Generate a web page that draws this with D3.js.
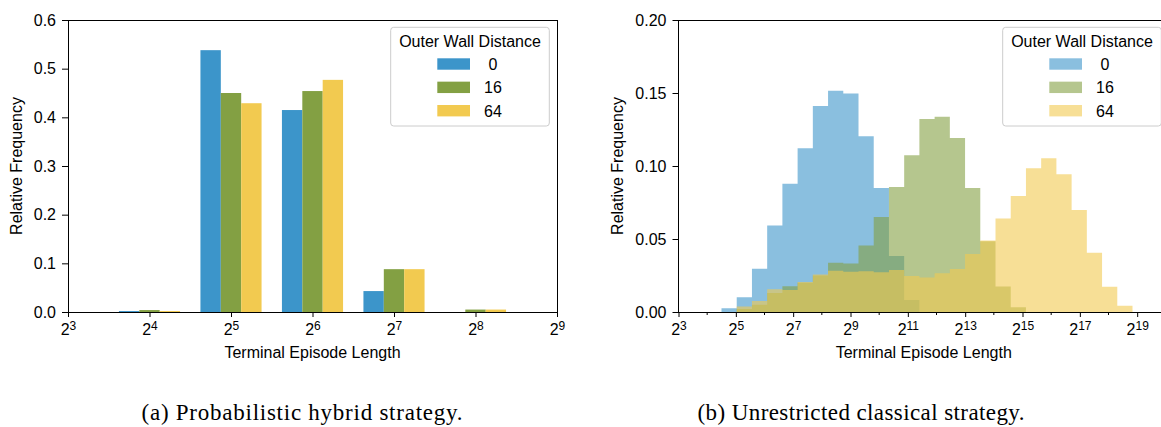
<!DOCTYPE html>
<html>
<head>
<meta charset="utf-8">
<script src="https://cdn.jsdelivr.net/npm/d3@7"></script>
<style>
  body { margin: 0; background: #fff; overflow: hidden; }
  svg { display: block; }
  text { font-family: "Liberation Sans", Arial, sans-serif; }
</style>
</head>
<body>
<svg id="fig" width="1161" height="427"></svg>
<script>
// legend entries
const wallLabels = [" 0", "16", "64"];
const baseColors = ["#3c95ca", "#83a043", "#f2ca50"];

// (a) probabilistic hybrid: bars at powers of two (exponents)
const hybridExp = [4, 5, 6, 7, 8];
const hybrid0  = [0.002, 0.538, 0.415, 0.043, 0.000];
const hybrid16 = [0.004, 0.450, 0.454, 0.088, 0.005];
const hybrid64 = [0.002, 0.429, 0.477, 0.088, 0.005];

// (b) unrestricted classical: shared log2 bin edges + relative frequency per bin
const classicalEdges = [4.500, 5.031, 5.562, 6.093, 6.624, 7.155, 7.686, 8.217, 8.748, 9.279,
  9.810, 10.341, 10.872, 11.403, 11.934, 12.465, 12.996, 13.527, 14.058, 14.589,
  15.120, 15.651, 16.182, 16.713, 17.244, 17.775, 18.306, 18.837];
const classical0 = [0.0025, 0.0101, 0.0297, 0.0592, 0.0878, 0.1122, 0.1411, 0.1515, 0.1497, 0.1204,
  0.0849, 0.0384, 0.0082, 0, 0, 0, 0, 0, 0, 0, 0, 0, 0, 0, 0, 0, 0];
const classical16 = [0, 0.002, 0.005, 0.013, 0.0176, 0.020, 0.025, 0.0338, 0.0333, 0.0456,
  0.0650, 0.0856, 0.1074, 0.1322, 0.1338, 0.1192, 0.0849, 0.0485, 0.0174, 0.0032,
  0, 0, 0, 0, 0, 0, 0];
const classical64 = [0, 0.0037, 0.0075, 0.0155, 0.0151, 0.0205, 0.0256, 0.0283, 0.0276, 0.0279,
  0.0272, 0.0288, 0.0247, 0.0237, 0.0265, 0.0294, 0.0397, 0.0490, 0.0640, 0.0795,
  0.0985, 0.1053, 0.0944, 0.0699, 0.0405, 0.0173, 0.0042];

// ticks
const leftXTicks = [3, 4, 5, 6, 7, 8, 9];
const leftYTicks = [0, 0.1, 0.2, 0.3, 0.4, 0.5, 0.6];
const rightXTicks = [3, 5, 7, 9, 11, 13, 15, 17, 19];
const rightXMinor = [4, 6, 8, 10, 12, 14, 16, 18, 20];
const rightYTicks = [0, 0.05, 0.10, 0.15, 0.20];

const captions = ["(a) Probabilistic hybrid strategy.", "(b) Unrestricted classical strategy."];

const svg = d3.select("#fig");
const plotTop = 20, plotBottom = 312;

// scales + group for one panel
function panel(left, width, xDomainExp, yMax, xTicks, yTicks, yFmt, ylabelX) {
  const g = svg.append("g");
  const x = d3.scaleLog().base(2)
    .domain(xDomainExp.map(e => Math.pow(2, e)))
    .range([left, left + width]);
  const y = d3.scaleLinear().domain([0, yMax]).range([plotBottom, plotTop]);
  return { g, x, y, left, width, xTicks, yTicks, yFmt, ylabelX };
}

function decorate(p) {
  const { g, x, y, left, width } = p;
  // y axis
  g.append("g")
    .attr("transform", `translate(${left},0)`)
    .call(d3.axisLeft(y).tickValues(p.yTicks).tickSize(6).tickPadding(6)
      .tickFormat(d3.format(p.yFmt)))
    .call(a => a.select(".domain").remove())
    .attr("font-size", 16).attr("font-family", "Liberation Sans, Arial, sans-serif")
    .attr("color", "#000");

  // x axis with 2^k labels
  const xa = g.append("g")
    .attr("transform", `translate(0,${plotBottom})`)
    .call(d3.axisBottom(x).tickValues(p.xTicks.map(e => Math.pow(2, e))).tickSize(5))
    .call(a => a.select(".domain").remove())
    .attr("font-size", 16).attr("font-family", "Liberation Sans, Arial, sans-serif")
    .attr("color", "#000");
  xa.selectAll(".tick text").each(function(d) {
    const t = d3.select(this).attr("y", 23).attr("dy", 0).text(null);
    t.append("tspan").text("2");
    t.append("tspan").attr("dy", -5.5).attr("font-size", 12).text(Math.round(Math.log2(d)));
  });

  // frame
  g.append("rect")
    .attr("x", left).attr("y", plotTop)
    .attr("width", width).attr("height", plotBottom - plotTop)
    .attr("fill", "none").attr("stroke", "#000").attr("stroke-width", 1)
    .attr("shape-rendering", "crispEdges");

  g.append("text")
    .attr("x", left + width / 2).attr("y", 358)
    .attr("text-anchor", "middle").attr("font-size", 16)
    .text("Terminal Episode Length");

  g.append("text")
    .attr("transform", `translate(${p.ylabelX},${(plotTop + plotBottom) / 2}) rotate(-90)`)
    .attr("text-anchor", "middle").attr("font-size", 16)
    .text("Relative Frequency");
}

function legend(g, bx, opacity) {
  const by = 27.3, bw = 158.6, bh = 98.7;
  g.append("rect")
    .attr("x", bx).attr("y", by).attr("width", bw).attr("height", bh)
    .attr("rx", 3).attr("fill", "#fff").attr("fill-opacity", 0.8)
    .attr("stroke", "#cccccc").attr("stroke-width", 1);
  g.append("text")
    .attr("x", bx + bw / 2).attr("y", by + 19.3)
    .attr("text-anchor", "middle").attr("font-size", 16)
    .text("Outer Wall Distance");
  wallLabels.forEach((lab, i) => {
    const cy = by + 36.7 + i * 23.35;
    g.append("rect")
      .attr("x", bx + 46.6).attr("y", cy - 5.7)
      .attr("width", 32.7).attr("height", 11.4)
      .attr("fill", baseColors[i]).attr("fill-opacity", opacity);
    g.append("text")
      .attr("x", bx + 93.3).attr("y", cy + 5.8)
      .attr("font-size", 16).style("white-space", "pre")
      .text(lab);
  });
}

// ---- (a) grouped bars ----
const pa = panel(68, 489, [3, 9], 0.6, leftXTicks, leftYTicks, ".1f", 22);
const hybridSeries = [hybrid0, hybrid16, hybrid64];
hybridSeries.forEach((vals, j) => {
  pa.g.append("g").selectAll("rect")
    .data(hybridExp.map((e, i) => ({ e, v: vals[i] })))
    .join("rect")
    .attr("x", d => pa.x(Math.pow(2, d.e - 0.375 + 0.25 * j)))
    .attr("width", d => pa.x(Math.pow(2, d.e - 0.125 + 0.25 * j)) - pa.x(Math.pow(2, d.e - 0.375 + 0.25 * j)))
    .attr("y", d => pa.y(d.v))
    .attr("height", d => pa.y(0) - pa.y(d.v))
    .attr("fill", baseColors[j]);
});
decorate(pa);
legend(pa.g, 390.7, 1);

// ---- (b) overlapping histograms ----
const pb = panel(678.5, 490.5, [3, 20.11], 0.2, rightXTicks, rightYTicks, ".2f", 623);
const classicalSeries = [classical0, classical16, classical64];
const n = classicalEdges.length - 1;
const area = d3.area()
  .x(d => pb.x(Math.pow(2, d.e)))
  .y0(pb.y(0))
  .y1(d => pb.y(d.v))
  .curve(d3.curveStepAfter);
classicalSeries.forEach((vals, j) => {
  pb.g.append("path")
    .datum(classicalEdges.map((e, i) => ({ e, v: vals[Math.min(i, n - 1)] })))
    .attr("d", area)
    .attr("fill", baseColors[j]).attr("fill-opacity", 0.6);
});
// minor ticks
pb.g.append("g").selectAll("line")
  .data(rightXMinor)
  .join("line")
  .attr("x1", d => pb.x(Math.pow(2, d))).attr("x2", d => pb.x(Math.pow(2, d)))
  .attr("y1", plotBottom).attr("y2", plotBottom + 3)
  .attr("stroke", "#000");
decorate(pb);
legend(pb.g, 1002.7, 0.6);

// captions
[[302, 321], [861, 327]].forEach(([cx, len], i) => {
  svg.append("text")
    .attr("x", cx).attr("y", 420)
    .attr("text-anchor", "middle")
    .attr("textLength", len).attr("lengthAdjust", "spacing")
    .style("font-family", "'Liberation Serif', 'Times New Roman', serif")
    .attr("font-size", 23)
    .text(captions[i]);
});
</script>
</body>
</html>
